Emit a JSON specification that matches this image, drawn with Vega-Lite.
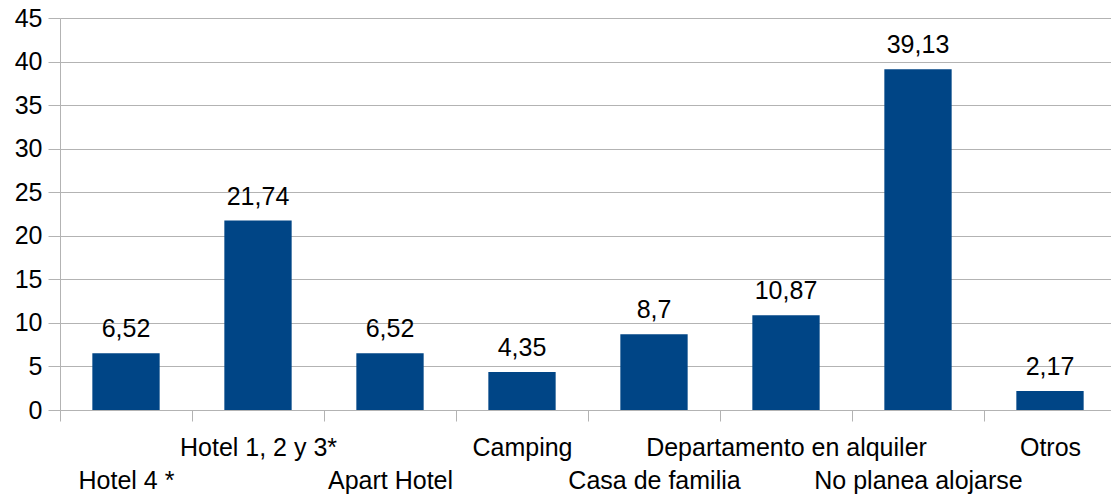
{
  "$schema": "https://vega.github.io/schema/vega-lite/v6.json",
  "autosize": {"type": "none"},
  "padding": {"left": 60, "top": 18, "right": 0, "bottom": 85},
  "width": 1056,
  "height": 392,
  "config": {
    "font": "Liberation Sans",
    "view": {"stroke": null},
    "locale": {"number": {"decimal": ",", "thousands": ".", "grouping": [3], "currency": ["", " €"]}}
  },
  "data": {
    "values": [
      {"categoria": "Hotel 4 *", "porcentaje": 6.52},
      {"categoria": "Hotel 1, 2 y 3*", "porcentaje": 21.74},
      {"categoria": "Apart Hotel", "porcentaje": 6.52},
      {"categoria": "Camping", "porcentaje": 4.35},
      {"categoria": "Casa de familia", "porcentaje": 8.7},
      {"categoria": "Departamento en alquiler", "porcentaje": 10.87},
      {"categoria": "No planea alojarse", "porcentaje": 39.13},
      {"categoria": "Otros", "porcentaje": 2.17}
    ]
  },
  "encoding": {
    "x": {
      "field": "categoria",
      "type": "nominal",
      "sort": null,
      "scale": {"paddingInner": 0.49, "paddingOuter": 0.245},
      "axis": {
        "title": null,
        "labelAngle": 0,
        "labelFontSize": 25,
        "labelColor": "#000000",
        "labelPadding": 14,
        "labelBaseline": "top",
        "labelLineHeight": 33,
        "labelOverlap": false,
        "labelLimit": 0,
        "labelExpr": "indexof(['Hotel 4 *','Apart Hotel','Casa de familia','No planea alojarse'], datum.value) >= 0 ? ['', datum.value] : datum.value",
        "tickOffset": -66,
        "labelOffset": 66,
        "tickSize": 11,
        "tickColor": "#b3b3b3",
        "tickWidth": 1,
        "domainColor": "#b3b3b3",
        "grid": false
      }
    },
    "y": {
      "field": "porcentaje",
      "type": "quantitative",
      "scale": {"domain": [0, 45], "nice": false},
      "axis": {
        "title": null,
        "values": [0, 5, 10, 15, 20, 25, 30, 35, 40, 45],
        "labelFontSize": 25,
        "labelColor": "#000000",
        "labelPadding": 6,
        "tickSize": 12,
        "tickColor": "#b3b3b3",
        "gridColor": "#b3b3b3",
        "domainColor": "#b3b3b3"
      }
    }
  },
  "layer": [
    {"mark": {"type": "bar", "color": "#004586"}},
    {
      "mark": {"type": "text", "baseline": "bottom", "dy": -11, "fontSize": 25, "color": "#000000"},
      "encoding": {"text": {"field": "porcentaje", "type": "quantitative"}}
    }
  ]
}
